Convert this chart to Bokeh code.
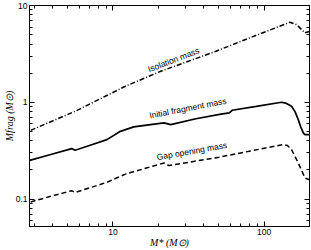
from bokeh.plotting import figure
from bokeh.models import FixedTicker, LogAxis, CustomJSTickFormatter, ColumnDataSource
from bokeh.core.properties import value
from bokeh.embed import file_html
from bokeh.resources import INLINE
import math

# ---- data ----
frag_mstar = [2.81, 3.82, 5.33, 5.61, 7.06, 9.12, 11.19, 13.72, 17.73, 21.75, 24.1, 35.4,
              51.9, 59.0, 61.5, 88.9, 130.5, 140.8, 152.1, 160.4, 168.5, 174.6, 182.0, 186.6, 200.0]
frag_mass = [0.251, 0.287, 0.332, 0.319, 0.360, 0.411, 0.501, 0.557, 0.587, 0.612, 0.588, 0.676,
             0.755, 0.777, 0.827, 0.907, 1.00, 0.974, 0.909, 0.801, 0.662, 0.561, 0.483, 0.463, 0.463]

gap_mstar = [2.85, 3.82, 5.33, 5.61, 7.06, 9.12, 12.08, 16.42, 21.75, 23.48, 32.8, 50.4,
             82.3, 133.8, 143.0, 152.1, 168.5, 186.6, 200.0]
gap_mass = [0.0933, 0.106, 0.122, 0.117, 0.131, 0.149, 0.181, 0.208, 0.236, 0.2215, 0.242, 0.271,
            0.315, 0.365, 0.357, 0.324, 0.236, 0.165, 0.158]

iso_mstar = [2.85, 5.61, 8.23, 12.08, 20.7, 32.8, 48.1, 80.2, 130.5, 148.2, 164.2, 177.4, 186.6, 200.0]
iso_mass = [0.513, 0.807, 1.087, 1.464, 2.092, 2.713, 3.37, 4.63, 6.21, 6.72, 6.36, 5.65, 5.22, 5.38]

label_text = ["Isolation mass", "Initial fragment mass", "Gap opening mass"]
label_x = [25.2, 31.3, 33.3]
label_y = [2.75, 0.87, 0.313]
label_angle_deg = [21, 11, 10]

x_major = [10, 100]
y_major = [0.1, 1, 10]
x_minor = [m * d for d in [1, 10, 100] for m in range(2, 10)]
y_minor = [m * d for d in [0.01, 0.1, 1] for m in range(2, 10)]

p = figure(width=311, height=250, x_axis_type="log", y_axis_type="log",
           x_range=(2.8, 200), y_range=(0.052, 10.01),
           output_backend="svg", toolbar_location=None,
           min_border_left=0, min_border_right=2, min_border_top=5, min_border_bottom=0)
p.background_fill_color = "white"
p.border_fill_color = "white"
p.outline_line_color = "black"
p.outline_line_width = 1
p.grid.visible = False

fmt = CustomJSTickFormatter(code="return String(tick);")

for ax, maj, mnr in [(p.xaxis[0], x_major, x_minor), (p.yaxis[0], y_major, y_minor)]:
    ax.ticker = FixedTicker(ticks=maj, minor_ticks=mnr)
    ax.formatter = fmt
    ax.major_tick_in = 5
    ax.major_tick_out = 0
    ax.minor_tick_in = 3
    ax.minor_tick_out = 0
    ax.axis_line_color = "black"
    ax.major_label_text_font = "Liberation Sans"
    ax.major_label_text_font_size = "8.5px"
    ax.major_label_text_color = "black"
    ax.axis_label_text_font = "Liberation Serif"
    ax.axis_label_text_font_style = "italic"
    ax.axis_label_text_font_size = "10px"
    ax.axis_label_text_color = "black"

p.xaxis.axis_label = "M* (M⊙)"
p.yaxis.axis_label = "Mfrag (M⊙)"
p.xaxis.major_label_standoff = 2
p.xaxis.axis_label_standoff = -1
p.yaxis.major_label_standoff = 2
p.yaxis.axis_label_standoff = -2

for loc, maj, mnr in [("right", y_major, y_minor), ("above", x_major, x_minor)]:
    ax = LogAxis(ticker=FixedTicker(ticks=maj, minor_ticks=mnr),
                 major_tick_in=5, major_tick_out=0, minor_tick_in=3, minor_tick_out=0,
                 major_label_text_color=None, major_label_text_font_size="1px",
                 major_label_standoff=0, axis_line_color="black")
    p.add_layout(ax, loc)

p.line(frag_mstar, frag_mass, line_color="black", line_width=1.7)
p.line(gap_mstar, gap_mass, line_color="black", line_width=1.5, line_dash="5 3")
p.line(iso_mstar, iso_mass, line_color="black", line_width=1.5, line_dash="5 2 1 2")

src = ColumnDataSource(dict(x=label_x, y=label_y, t=label_text,
                            a=[math.radians(d) for d in label_angle_deg]))
p.text(x="x", y="y", text="t", angle="a", source=src,
       text_font=value("Liberation Sans"), text_font_size="8.5px",
       text_align="center", text_baseline="middle", text_color="black")

open("out.html", "w").write(file_html(p, INLINE))
